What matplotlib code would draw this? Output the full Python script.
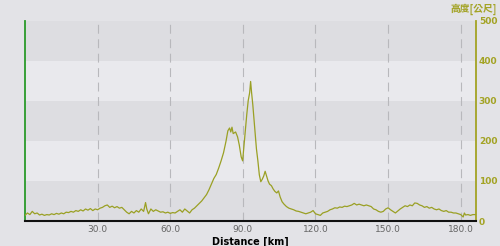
import matplotlib.pyplot as plt

# distance (km) and elevation (m)
dist = [0, 1, 2, 3, 4, 5, 6, 7, 8, 9, 10, 11, 12, 13, 14, 15, 16, 17, 18, 19,
        20, 21, 22, 23, 24, 25, 26, 27, 28, 29, 30, 31, 32, 33, 34, 35, 36, 37, 38, 39,
        40, 41, 42, 43, 44, 45, 46, 47, 48, 49, 49.8, 50.3, 51, 52, 53, 54, 55, 56, 57, 58,
        59, 60, 61, 62, 63, 64, 65, 66, 67, 68, 69, 70, 71, 72, 73, 74, 75, 76, 77, 78,
        79, 80, 81, 82, 83, 83.8, 84.5, 85, 85.5, 86, 87, 87.8, 88.5, 89.3, 89.9, 90.5, 91, 91.6, 92.2, 92.8,
        93.2, 93.6, 94.1, 94.5, 95, 95.6, 96.2, 96.8, 97.4, 98, 98.6, 99.2, 99.8, 100.4, 101, 101.8, 102.5, 103.2, 104, 104.7,
        105.4, 106.2, 107, 108, 109, 110, 111, 112, 113, 114, 115, 116, 117, 118, 119, 120, 121, 122, 123, 124,
        125, 126, 127, 128, 129, 130, 131, 132, 133, 134, 135, 136, 137, 138, 139, 140, 141, 142, 143, 144,
        145, 146, 147, 148, 149, 150, 151, 152, 153, 154, 155, 156, 157, 158, 159, 160, 161, 162, 163, 164,
        165, 166, 167, 168, 169, 170, 171, 172, 173, 174, 175, 176, 177, 178, 179, 180, 181, 181.5, 182, 183,
        184, 185, 186]
elev = [14, 20, 16, 24, 18, 20, 15, 17, 14, 16, 15, 18, 16, 19, 17, 20, 18, 22, 21, 24,
        22, 26, 24, 28, 25, 30, 27, 31, 26, 30, 28, 32, 34, 38, 40, 34, 37, 33, 36, 32,
        34, 28, 22, 18, 24, 20, 26, 22, 30, 24, 46, 30, 18, 30, 24, 28, 25, 22, 23, 20,
        22, 19, 21, 20, 24, 28, 22, 30, 25, 20, 28, 32, 38, 44, 50, 58, 66, 78, 92, 106,
        116, 132, 150, 170, 198, 225, 232, 222, 234, 218, 222, 210, 190, 160, 150, 190, 226, 265, 300, 320,
        348, 320, 290, 260, 220, 180, 150, 115, 98, 104, 112, 124, 112, 100, 92, 88, 80, 74, 70, 75,
        60, 48, 42, 36, 32, 30, 28, 25, 24, 22, 20, 18, 20, 22, 26, 18, 16, 14, 20, 22,
        24, 28, 30, 33, 32, 35, 34, 37, 36, 38, 40, 44, 40, 42, 40, 38, 40, 38, 36, 30,
        28, 24, 22, 24, 30, 33, 28, 24, 20, 25, 30, 34, 38, 36, 40, 38, 45, 44, 40, 38,
        34, 36, 32, 34, 30, 28, 30, 26, 24, 26, 22, 22, 20, 20, 18, 16, 10, 20, 15, 16,
        14, 16, 16]

xticks = [30, 60, 90, 120, 150, 180]
yticks = [0, 100, 200, 300, 400, 500]

olive = "#a3a324"

fig = plt.figure(figsize=(5, 2.46), dpi=100)
fig.patch.set_facecolor("#e3e3e7")
ax = fig.add_axes([0.05, 0.1016, 0.902, 0.815])
ax.set_facecolor("#e3e3e7")

# alternating horizontal bands
for i in range(len(yticks) - 1):
    c = "#dddde1" if i % 2 == 0 else "#e9e9ed"
    ax.axhspan(yticks[i], yticks[i + 1], color=c, zorder=0, lw=0)

for x in xticks:
    ax.axvline(x, color="#b8b8bc", lw=0.8, ls=(0, (8, 5)), zorder=1)

ax.plot(dist, elev, color="#9aa024", lw=0.9, zorder=3)

ax.set_xlim(0, 186.3)
ax.set_ylim(0, 500)
ax.set_xticks(xticks)
ax.set_xticklabels([f"{x:.1f}" for x in xticks], color="#666666", fontsize=6.5)
ax.tick_params(axis="x", length=0, pad=3)
ax.set_xlabel("Distance [km]", fontsize=7, fontweight="bold", labelpad=2)

ax.yaxis.tick_right()
ax.set_yticks(yticks)
ax.set_yticklabels([str(y) for y in yticks], color=olive, fontsize=6.5, fontweight="bold")
ax.tick_params(axis="y", length=0, pad=2)

ax.spines["top"].set_visible(False)
ax.spines["left"].set_color("#2a9a2a")
ax.spines["left"].set_linewidth(1.3)
ax.spines["right"].set_color(olive)
ax.spines["right"].set_linewidth(1.3)
ax.spines["bottom"].set_color("#111111")
ax.spines["bottom"].set_linewidth(1.5)

fig.text(0.994, 0.963, "高度[公尺]", color=olive, fontsize=7, ha="right", va="center",
         family=["Noto Sans CJK TC", "DejaVu Sans"], fontweight="bold")

fig.savefig("out.png", dpi=100, facecolor=fig.get_facecolor())
